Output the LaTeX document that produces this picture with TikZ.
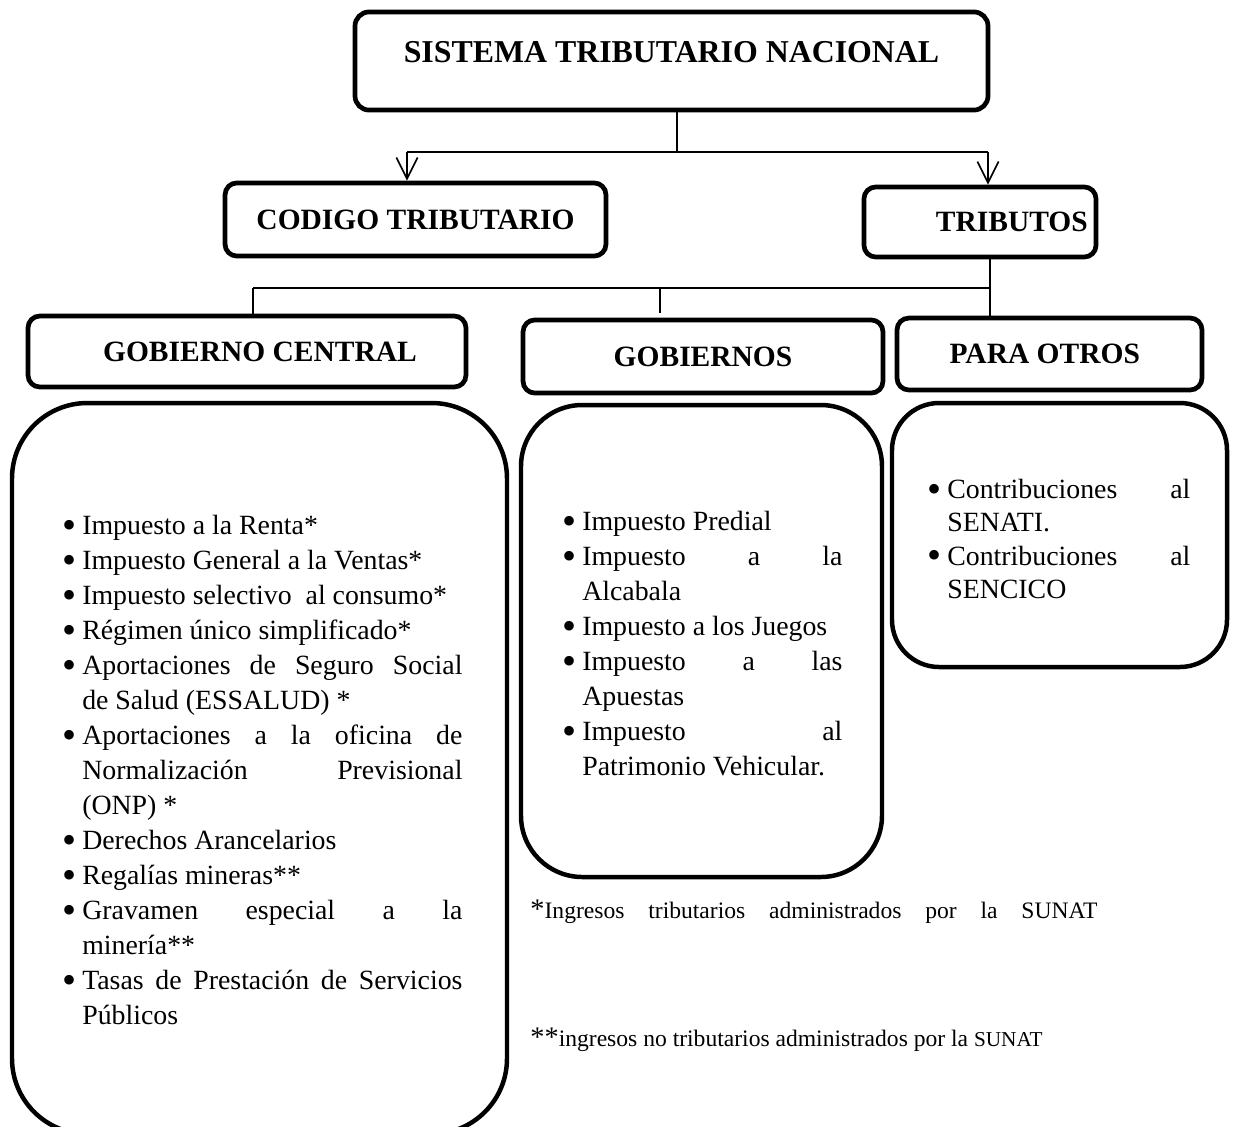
\documentclass[tikz,border=0pt]{standalone}
\usepackage{fontspec}
\setmainfont{Liberation Serif}
\usetikzlibrary{arrows.meta,positioning}

\hyphenpenalty=10000
\exhyphenpenalty=10000
\hbadness=10000
\newcommand{\vineta}{\par\hangindent=8.4pt\hangafter=1\noindent\makebox[8.4pt][l]{\smash{\raisebox{-1.5pt}{\fontsize{17}{17}\selectfont\textbullet}}}}

\begin{document}
\begin{tikzpicture}[x=0.424pt,y=-0.424pt,>={Straight Barb[length=9pt,width=9pt]}]
\tikzstyle{block}=[draw, line width=2pt, rectangle, rounded corners=5pt, inner sep=0pt, font=\fontsize{12.5}{14}\selectfont\bfseries]
\tikzstyle{caja}=[draw, line width=1.9pt]
\tikzstyle{lista}=[anchor=north west, inner sep=0pt, align=justify, font=\fontsize{11.8}{14.85}\selectfont]
\tikzstyle{conn}=[line width=0.7pt]

\useasboundingbox (0,0) rectangle (1235,1126);
\clip (0,0) rectangle (1235,1126);

% cajas de titulos
\node[block, rounded corners=6pt, minimum width=268.4pt, text height=21.4pt, text depth=20.2pt, font=\fontsize{13.5}{14}\selectfont\bfseries] (stn) at (671.5,61) {SISTEMA TRIBUTARIO NACIONAL};
\node[block, minimum width=161.5pt, minimum height=31pt] (codigo) at (415.5,219.5) {CODIGO TRIBUTARIO};
\node[block, minimum width=98.4pt, minimum height=29.7pt] (tributos) at (980,222) {\hspace*{27pt}TRIBUTOS};
\node[block, minimum width=185.7pt, minimum height=30.1pt] (central) at (247,351.5) {\hspace*{11pt}GOBIERNO CENTRAL};
\node[block, minimum width=152.6pt, minimum height=31pt] (gobiernos) at (703,356.5) {GOBIERNOS};
\node[block, minimum width=129.3pt, minimum height=30.5pt] (otros) at (1049.5,354) {PARA OTROS\hspace*{4pt}};

% conectores
\coordinate (j1) at (677,152);
\coordinate (fl) at (407,152);
\coordinate (fr) at (988,152);
\draw[conn] (stn.south -| j1) -- (j1);
\draw[conn] (fl) -- (fr);
\draw[conn,->] (fl) -- (fl |- codigo.north);
\draw[conn,->] (fr) -- (fr |- tributos.north);

\coordinate (j2) at (990,288);
\coordinate (j3) at (253,288);
\coordinate (j4) at (660,288);
\draw[conn] (tributos.south -| j2) -- (otros.north -| j2);
\draw[conn] (j3) -- (j2);
\draw[conn] (j3) -- (j3 |- central.north);
\draw[conn, shorten >=2pt] (j4) -- (j4 |- gobiernos.north);

% cajas grandes
\draw[caja, rounded corners=32pt] (12,403) rectangle (507,1134);
\draw[caja, rounded corners=26pt] (521,405) rectangle (882,877);
\draw[caja, rounded corners=20pt] (892,403) rectangle (1227,667);

\node[lista, text width=169.6pt] (lcentral) at (62,499) {%
\vineta\rule{0pt}{10pt}Impuesto a la Renta*
\vineta Impuesto General a la Ventas*
\vineta Impuesto selectivo\ \ al consumo*
\vineta R\'egimen \'unico simplificado*
\vineta Aportaciones de Seguro Social\linebreak de Salud (ESSALUD) *
\vineta Aportaciones a la oficina de\linebreak Normalizaci\'on Previsional\linebreak (ONP) *
\vineta Derechos Arancelarios
\vineta Regal\'ias mineras**
\vineta Gravamen especial a la\linebreak miner\'ia**
\vineta Tasas de Prestaci\'on de Servicios\linebreak P\'ublicos\par};

\node[lista, text width=118.7pt] (lgobiernos) at (562,495) {%
\vineta\rule{0pt}{10pt}Impuesto Predial
\vineta Impuesto a la\linebreak Alcabala
\vineta Impuesto a los Juegos
\vineta Impuesto a las\linebreak Apuestas
\vineta Impuesto al\linebreak Patrimonio Vehicular.\par};

\node[lista, text width=111.5pt, font=\fontsize{11.8}{14.1}\selectfont] (lotros) at (927,465) {%
\vineta\rule{0pt}{10pt}Contribuciones al\linebreak SENATI.
\vineta Contribuciones al\linebreak SENCICO\par};

% notas
\node[anchor=base west, inner sep=0pt] (nota1) at (530,918) {\makebox[240.4pt][s]{{\fontsize{12}{12}\selectfont *}\fontsize{10}{12}\selectfont Ingresos tributarios administrados por la SUNAT}};
\node[anchor=base west, inner sep=0pt] (nota2) at (530,1046) {{\fontsize{12}{12}\selectfont **}\fontsize{10}{12}\selectfont ingresos no tributarios administrados por la {\fontsize{9}{12}\selectfont SUNAT}};
\end{tikzpicture}
\end{document}
